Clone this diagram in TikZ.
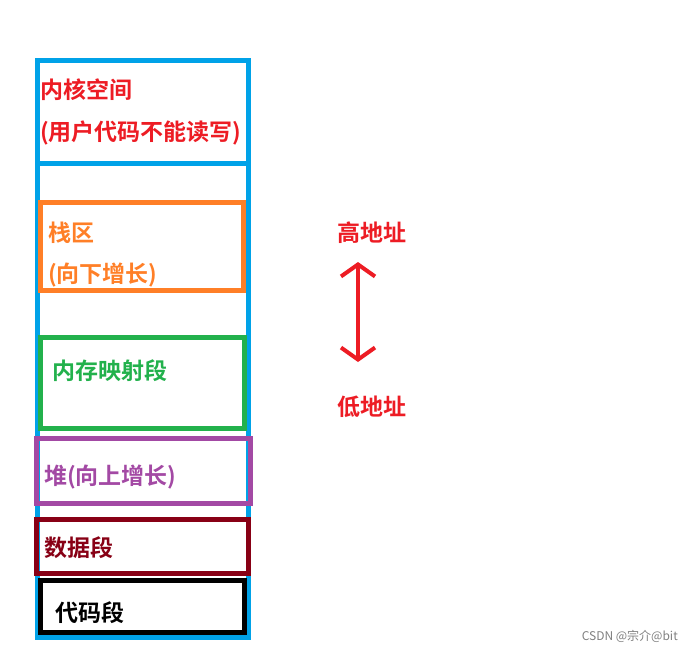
\documentclass[tikz,border=0pt]{standalone}
\usepackage{fontspec}
\setmainfont{Noto Sans CJK SC}
\newfontfamily\cjkb{Noto Sans CJK SC Bold}
\usetikzlibrary{arrows.meta}
\definecolor{cblue}{HTML}{00A2E8}
\definecolor{corange}{HTML}{FF7F27}
\definecolor{cgreen}{HTML}{22B14C}
\definecolor{cpurple}{HTML}{A349A4}
\definecolor{cdred}{HTML}{880015}
\definecolor{cred}{HTML}{ED1C24}
\tikzset{seg/.style={line width=5pt},lbl/.style={anchor=west,inner sep=0pt,font=\cjkb\fontsize{23}{27}\selectfont}}
\begin{document}
\begin{tikzpicture}[x=1pt,y=-1pt]
\useasboundingbox (0,0) rectangle (692,653);
\fill[white] (0,0) rectangle (692,653);
\draw[seg,cblue] (37,60) rectangle (248,637);
\draw[seg,cblue] (37,60) rectangle (248,163);
\draw[seg,corange] (40,202) rectangle (243,290);
\draw[seg,cgreen] (40,337) rectangle (244,428);
\draw[seg,cpurple] (36,438) rectangle (250,503);
\draw[seg,cdred] (36,519) rectangle (248,573);
\draw[seg,black] (40,580) rectangle (244,632);
\node[lbl,cred] (k1) at (40,90) {内核空间};
\node[lbl,cred] (k2) at (40,133) {(用户代码不能读写)};
\node[lbl,corange] (s1) at (48,233) {栈区};
\node[lbl,corange] (s2) at (48,275) {(向下增长)};
\node[lbl,cgreen] (m) at (52,371) {内存映射段};
\node[lbl,cpurple] (h) at (44,477) {堆(向上增长)};
\node[lbl,cdred] (d) at (44,548) {数据段};
\node[lbl,black] (c) at (55,613) {代码段};
\node[lbl,cred] (hi) at (337,233) {高地址};
\node[lbl,cred] (lo) at (337,407) {低地址};
\coordinate (a1) at (358,262);
\coordinate (a2) at (358,362);
\draw[cred,line width=4pt,{Straight Barb[length=12pt,width=34pt]}-{Straight Barb[length=12pt,width=34pt]}] (a1) -- (a2);
\node[anchor=east,inner sep=0pt,gray,font=\fontsize{12}{14}\selectfont] (w) at (678,636) {CSDN @宗介@bit};
\end{tikzpicture}
\end{document}
